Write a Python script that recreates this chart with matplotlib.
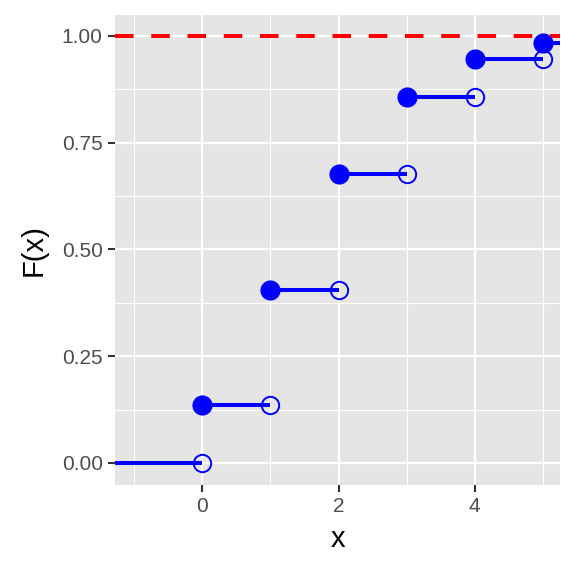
import numpy as np
import matplotlib
matplotlib.use("Agg")
from matplotlib import pyplot as plt

plt.rcParams['font.family'] = ['Liberation Sans', 'DejaVu Sans']

# step values
x_steps = [0, 1, 2, 3, 4, 5]
cdf_vals = [0.135, 0.406, 0.677, 0.857, 0.947, 0.983]
x_ticks = [0, 2, 4]
y_ticks = [0.00, 0.25, 0.50, 0.75, 1.00]
y_tick_labels = ["0.00", "0.25", "0.50", "0.75", "1.00"]

fig = plt.figure(figsize=(5.76, 5.76), dpi=100)
ax = fig.add_axes([0.2, 0.158, 0.773, 0.816])
ax.set_facecolor("#E5E5E5")

x_lo, x_hi = -1.28, 5.26
ax.set_xlim(x_lo, x_hi)
ax.set_ylim(-0.0515, 1.049)

# grid
for v in [-1, 1, 3, 5]:
    ax.axvline(v, color="white", lw=0.8, zorder=0)
for v in [0.125, 0.375, 0.625, 0.875]:
    ax.axhline(v, color="white", lw=0.8, zorder=0)
for v in x_ticks:
    ax.axvline(v, color="white", lw=1.6, zorder=0)
for v in y_ticks:
    ax.axhline(v, color="white", lw=1.6, zorder=0)

ax.axhline(1.0, color="red", lw=2.9, ls=(0, (4.6, 4.4)), zorder=1)

# segments
lw_seg = 2.9
ax.plot([x_lo, 0], [0, 0], color="blue", lw=lw_seg, zorder=2, solid_capstyle="butt")
for i, x in enumerate(x_steps):
    x_end = x + 1 if i < len(x_steps) - 1 else x_hi
    ax.plot([x, x_end], [cdf_vals[i], cdf_vals[i]], color="blue", lw=lw_seg,
            zorder=2, solid_capstyle="butt")

# open circles at the right ends
open_x = x_steps
open_y = [0] + cdf_vals[:-1]
ax.plot(open_x, open_y, "o", ms=12.5, mfc="none", mec="blue", mew=1.4, zorder=3)
# filled circles
ax.plot(x_steps, cdf_vals, "o", ms=14.5, color="blue", mew=0, zorder=4)

ax.set_xticks(x_ticks)
ax.set_yticks(y_ticks)
ax.set_yticklabels(y_tick_labels)
ax.tick_params(colors="#333333", labelcolor="#4D4D4D", labelsize=15,
               length=5, width=1.5, pad=4)
for s in ax.spines.values():
    s.set_visible(False)

ax.set_xlabel("x", fontsize=21, color="black", labelpad=6)
ax.set_ylabel("F(x)", fontsize=21, color="black", labelpad=10)

fig.savefig("out.png", dpi=100)
